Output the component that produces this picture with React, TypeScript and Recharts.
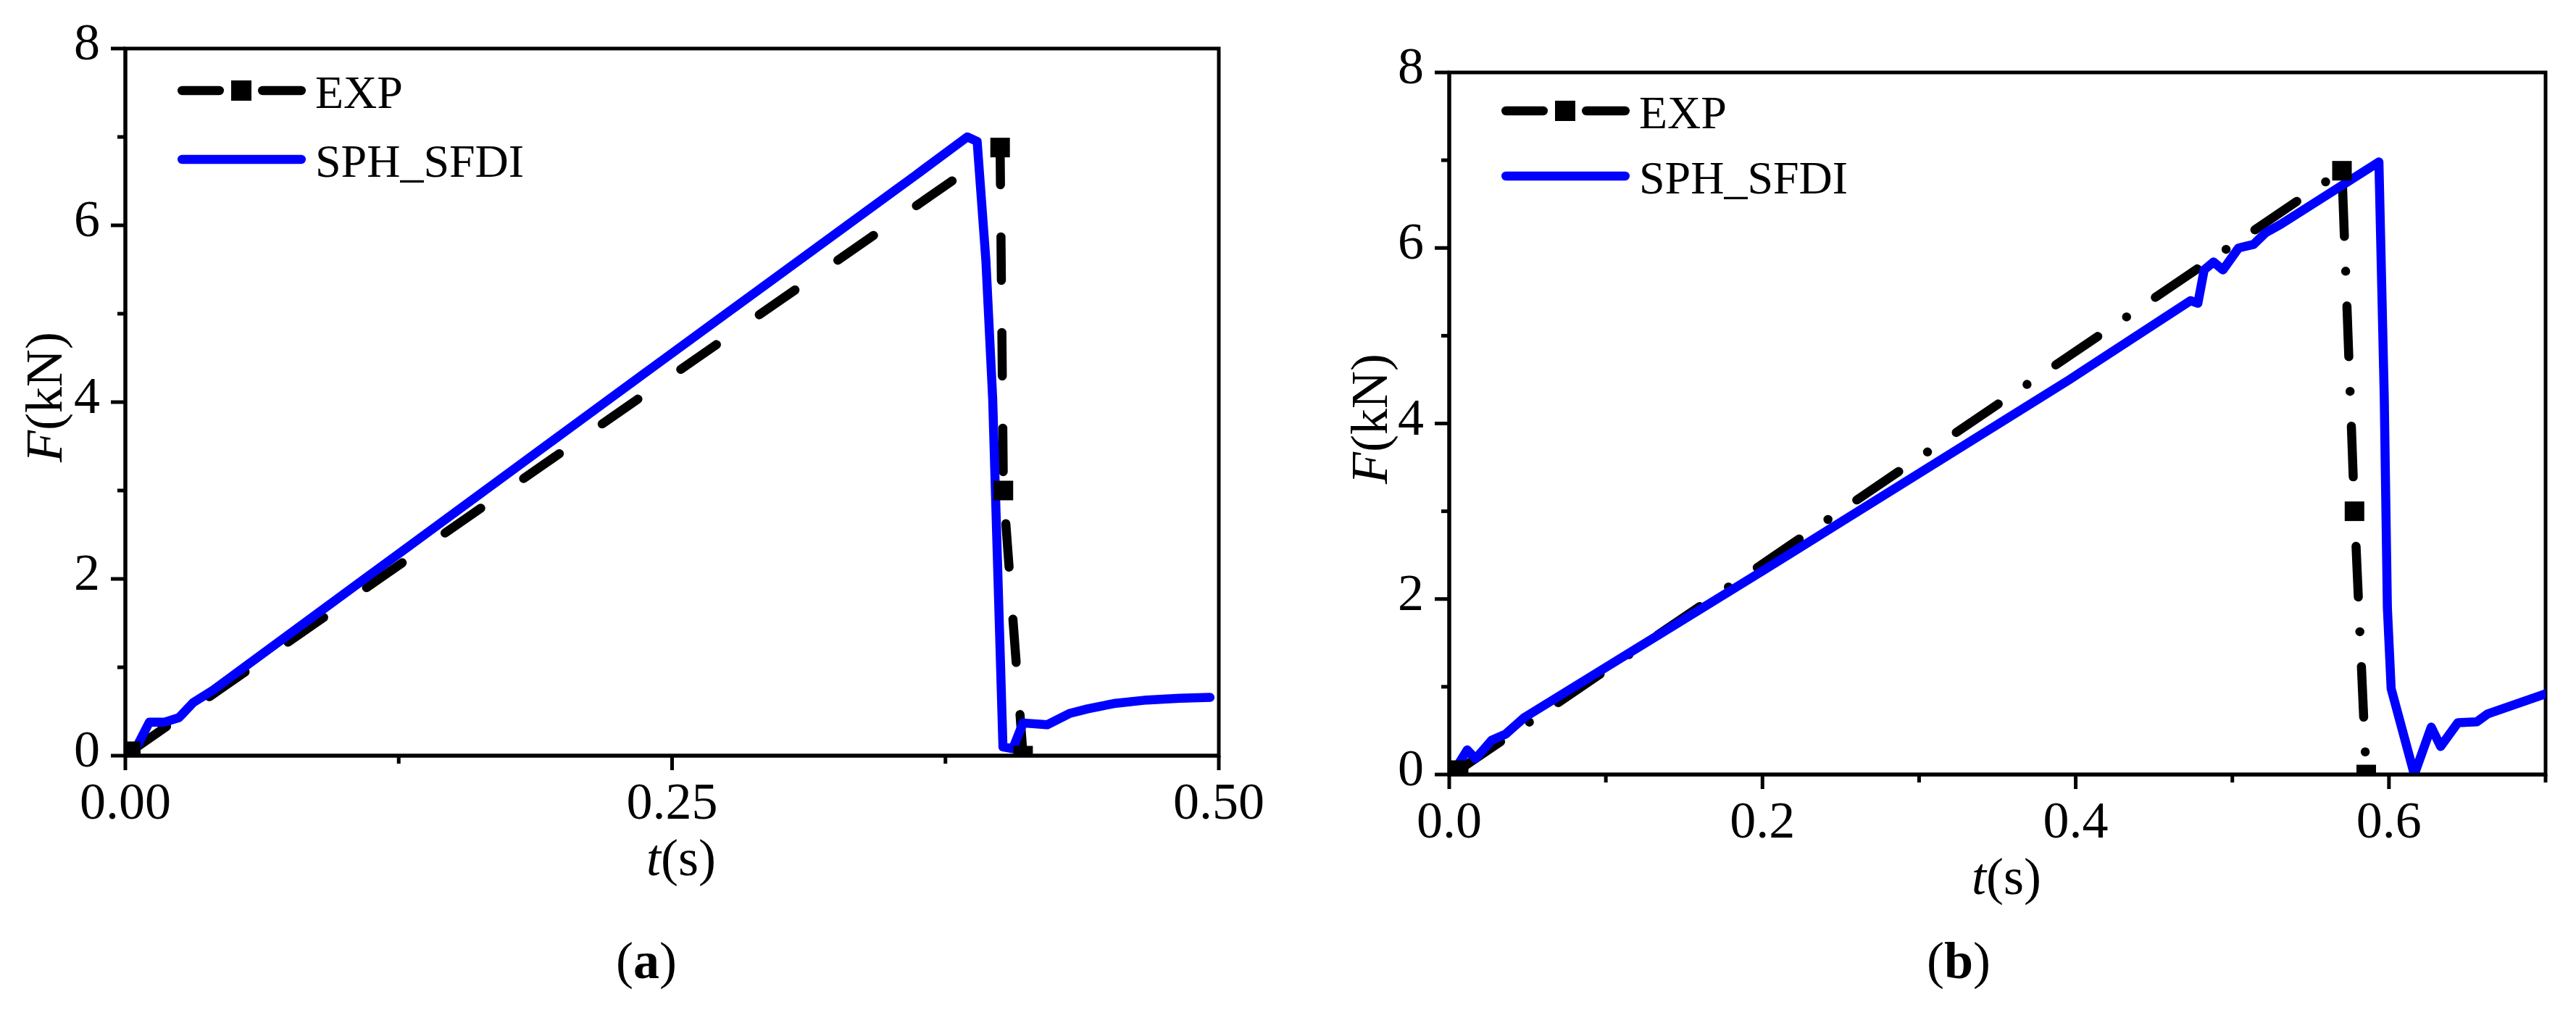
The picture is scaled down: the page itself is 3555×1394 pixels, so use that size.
import { Line, LineChart, ReferenceArea, XAxis, YAxis } from "recharts";

const FONT = '"Liberation Serif", "Times New Roman", serif';
const PAGE_W = 3555;
const PAGE_H = 1394;

// ---- panel (a) ----
const expTimeA = [0.0025, 0.4, 0.4015, 0.4105];
const expForceA = [0.05, 6.88, 3.0, 0];
const simTimeA = [
  0.0056, 0.011, 0.018, 0.0245, 0.031, 0.04, 0.2409, 0.361, 0.385, 0.3895,
  0.3935, 0.3966, 0.4013, 0.4058, 0.4105, 0.4215, 0.432, 0.44, 0.452, 0.467,
  0.482, 0.496,
];
const simForceA = [
  0.12, 0.38, 0.38, 0.43, 0.6, 0.74, 4.39, 6.56, 7.0, 6.95, 5.6, 4.04, 0.1,
  0.08, 0.37, 0.35, 0.48, 0.53, 0.59, 0.63, 0.65, 0.66,
];
const xMajorA = [0, 0.25, 0.5];
const xMinorA = [0.125, 0.375];
const xLabelsA = ["0.00", "0.25", "0.50"];

// ---- panel (b) ----
const expTimeB = [0.006, 0.57, 0.578, 0.5855];
const expForceB = [0.05, 6.88, 3.0, 0];
const simTimeB = [
  0.0063, 0.0115, 0.0168, 0.027, 0.036, 0.048, 0.201, 0.396, 0.4733, 0.478,
  0.482, 0.488, 0.494, 0.504, 0.5135, 0.521, 0.531, 0.5936, 0.597, 0.599,
  0.6014, 0.6162, 0.627, 0.633, 0.644, 0.656, 0.663, 0.679, 0.7,
];
const simForceB = [
  0.13, 0.28, 0.18, 0.39, 0.46, 0.65, 2.33, 4.5, 5.4, 5.37, 5.75, 5.84, 5.75,
  6.0, 6.04, 6.17, 6.27, 6.98, 4.3, 1.9, 0.98, 0.0, 0.54, 0.32, 0.59, 0.6,
  0.69, 0.79, 0.92,
];
const xMajorB = [0, 0.2, 0.4, 0.6];
const xMinorB = [0.1, 0.3, 0.5, 0.7];
const xLabelsB = ["0.0", "0.2", "0.4", "0.6"];

// shared y axis
const yMajor = [0, 2, 4, 6, 8];
const yMinor = [1, 3, 5, 7];
const yLabels = ["0", "2", "4", "6", "8"];

const seriesNames = ["EXP", "SPH_SFDI"];

const toPoints = (ts: number[], fs: number[]) =>
  ts.map((t, i) => ({ t, F: fs[i] }));

const findIdx = (arr: number[], v: number) =>
  arr.findIndex((a) => Math.abs(a - v) < 1e-9);

const TICK = 20;
const MINOR = 11;
const AXIS_W = 5;
const LINE_W = 12.5;

const makeYTick = () => (props: any) => {
  const { x, y, payload } = props;
  const axisX = x + TICK;
  const idx = findIdx(yMajor, payload.value);
  const len = idx >= 0 ? TICK : MINOR;
  return (
    <g>
      <line x1={axisX - len} x2={axisX} y1={y} y2={y} stroke="#000" strokeWidth={AXIS_W} />
      {idx >= 0 && (
        <text x={axisX - 35} y={y + 15} textAnchor="end" fontSize={72} fontFamily={FONT} fill="#000">
          {yLabels[idx]}
        </text>
      )}
    </g>
  );
};

const makeXTick = (major: number[], labels: string[]) => (props: any) => {
  const { x, y, payload } = props;
  const axisY = y - TICK;
  const idx = findIdx(major, payload.value);
  const len = idx >= 0 ? TICK : MINOR;
  return (
    <g>
      <line x1={x} x2={x} y1={axisY} y2={axisY + len} stroke="#000" strokeWidth={AXIS_W} />
      {idx >= 0 && (
        <text x={x} y={axisY + 87} textAnchor="middle" fontSize={72} fontFamily={FONT} fill="#000">
          {labels[idx]}
        </text>
      )}
    </g>
  );
};

const SquareDot = (props: any) => {
  const { cx, cy, index } = props;
  if (cx == null || cy == null) return null;
  return <rect key={`sq-${index}`} x={cx - 13.5} y={cy - 13.5} width={27} height={27} fill="#000" />;
};

type PanelProps = {
  chartLeft: number;
  chartWidth: number;
  plot: { L: number; R: number; T: number; B: number };
  xMax: number;
  xMajor: number[];
  xMinor: number[];
  xLabels: string[];
  exp: { t: number; F: number }[];
  sim: { t: number; F: number }[];
  dash: string;
};

const Panel = ({ chartLeft, chartWidth, plot, xMax, xMajor, xMinor, xLabels, exp, sim, dash }: PanelProps) => {
  const xAxisH = 100;
  const yAxisW = plot.L - chartLeft;
  const xTicks = [...xMajor, ...xMinor].sort((a, b) => a - b);
  const yTicks = [...yMajor, ...yMinor].sort((a, b) => a - b);
  return (
    <div style={{ position: "absolute", left: chartLeft, top: 0 }}>
      <LineChart
        width={chartWidth}
        height={PAGE_H}
        margin={{ top: plot.T, right: chartLeft + chartWidth - plot.R, bottom: PAGE_H - plot.B - xAxisH, left: 0 }}
      >
        <XAxis
          dataKey="t"
          type="number"
          domain={[0, xMax]}
          ticks={xTicks}
          interval={0}
          allowDataOverflow
          height={xAxisH}
          tickSize={TICK}
          tickMargin={0}
          tickLine={false}
          axisLine={{ stroke: "#000", strokeWidth: AXIS_W }}
          tick={makeXTick(xMajor, xLabels)}
        />
        <YAxis
          type="number"
          domain={[0, 8]}
          ticks={yTicks}
          interval={0}
          allowDataOverflow
          width={yAxisW}
          tickSize={TICK}
          tickMargin={0}
          tickLine={false}
          axisLine={{ stroke: "#000", strokeWidth: AXIS_W }}
          tick={makeYTick()}
        />
        <ReferenceArea x1={0} x2={xMax} y1={0} y2={8} fill="none" fillOpacity={0} stroke="#000" strokeWidth={AXIS_W} />
        <Line
          data={exp}
          dataKey="F"
          name={seriesNames[0]}
          type="linear"
          stroke="#000"
          strokeWidth={LINE_W}
          strokeDasharray={dash}
          strokeLinecap="round"
          strokeLinejoin="round"
          dot={SquareDot}
          activeDot={false}
          isAnimationActive={false}
        />
        <Line
          data={sim}
          dataKey="F"
          name={seriesNames[1]}
          type="linear"
          stroke="#0000ff"
          strokeWidth={LINE_W}
          strokeLinecap="round"
          strokeLinejoin="round"
          dot={false}
          activeDot={false}
          isAnimationActive={false}
        />
      </LineChart>
    </div>
  );
};

const Legend = ({ L, T, expDy, simDy }: { L: number; T: number; expDy: number; simDy: number }) => {
  const y1 = T + expDy;
  const y2 = T + simDy;
  const h = LINE_W / 2;
  return (
    <g fontFamily={FONT} fontSize={64} fill="#000">
      <line x1={L + 72 + h} x2={L + 136 - h} y1={y1} y2={y1} stroke="#000" strokeWidth={LINE_W} strokeLinecap="round" />
      <rect x={L + 160 - 14} y={y1 - 14} width={28} height={28} fill="#000" />
      <line x1={L + 183 + h} x2={L + 249 - h} y1={y1} y2={y1} stroke="#000" strokeWidth={LINE_W} strokeLinecap="round" />
      <text x={L + 262} y={y1 + 24}>{seriesNames[0]}</text>
      <line x1={L + 72 + h} x2={L + 249 - h} y1={y2} y2={y2} stroke="#0000ff" strokeWidth={LINE_W} strokeLinecap="round" />
      <text x={L + 262} y={y2 + 24}>{seriesNames[1]}</text>
    </g>
  );
};

const plotA = { L: 173, R: 1682, T: 67, B: 1043 };
const plotB = { L: 2000, R: 3513, T: 100, B: 1069 };

export default function App() {
  return (
    <div style={{ position: "absolute", left: 0, top: 0, width: PAGE_W, height: PAGE_H, background: "#fff" }}>
      <Panel
        chartLeft={0}
        chartWidth={1780}
        plot={plotA}
        xMax={0.5}
        xMajor={xMajorA}
        xMinor={xMinorA}
        xLabels={xLabelsA}
        exp={toPoints(expTimeA, expForceA)}
        sim={toPoints(simTimeA, simForceA)}
        dash="60 72"
      />
      <Panel
        chartLeft={1780}
        chartWidth={1775}
        plot={plotB}
        xMax={0.7}
        xMajor={xMajorB}
        xMinor={xMinorB}
        xLabels={xLabelsB}
        exp={toPoints(expTimeB, expForceB)}
        sim={toPoints(simTimeB, simForceB)}
        dash="70 48 0 48"
      />
      <svg
        width={PAGE_W}
        height={PAGE_H}
        style={{ position: "absolute", left: 0, top: 0, pointerEvents: "none" }}
      >
        <Legend L={plotA.L} T={plotA.T} expDy={58} simDy={153} />
        <Legend L={plotB.L} T={plotB.T} expDy={53} simDy={143} />
        <g fontFamily={FONT} fontSize={72} fill="#000">
          <text transform={`translate(${plotA.L - 88},548) rotate(-90)`} textAnchor="middle">
            <tspan fontStyle="italic">F</tspan>(kN)
          </text>
          <text transform={`translate(${plotB.L - 86},578) rotate(-90)`} textAnchor="middle">
            <tspan fontStyle="italic">F</tspan>(kN)
          </text>
          <text x={940} y={1208} textAnchor="middle">
            <tspan fontStyle="italic">t</tspan>(s)
          </text>
          <text x={2769} y={1234} textAnchor="middle">
            <tspan fontStyle="italic">t</tspan>(s)
          </text>
          <text x={892} y={1350} textAnchor="middle">
            (<tspan fontWeight="bold">a</tspan>)
          </text>
          <text x={2703} y={1350} textAnchor="middle">
            (<tspan fontWeight="bold">b</tspan>)
          </text>
        </g>
      </svg>
    </div>
  );
}
